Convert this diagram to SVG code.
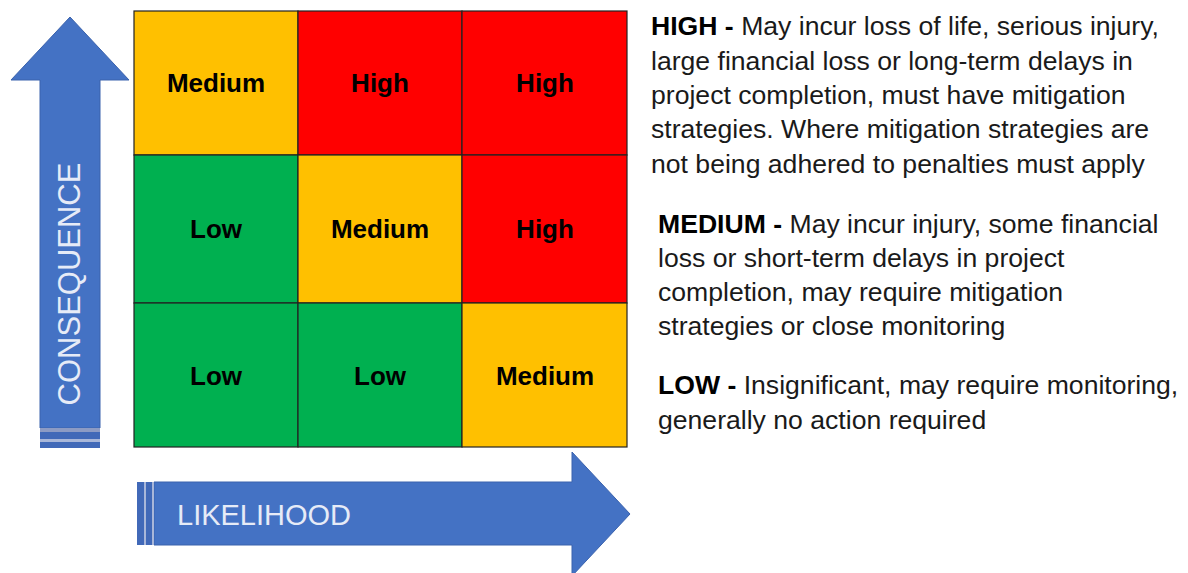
<svg xmlns="http://www.w3.org/2000/svg" width="1188" height="573" viewBox="0 0 1188 573">
<style>
.cell{stroke:#222;stroke-width:1.2}
.y{fill:#ffc000}.r{fill:#ff0000}.g{fill:#00b050}
.lbl{font-family:"Liberation Sans",Arial,sans-serif;font-weight:bold;font-size:26px;fill:#000;text-anchor:middle}
.arrow{fill:#4472c4;stroke:#3a62ad;stroke-width:1}
.band{fill:#4169b8}
.axis{font-family:"Liberation Sans",Arial,sans-serif;font-size:29px;fill:#e6ebf7}
.desc{font-family:"Liberation Sans",Arial,sans-serif;font-size:26.6px;fill:#1a1a1a}
.desc .b{font-weight:bold;fill:#000}
</style>
<rect width="1188" height="573" fill="#fff"/>

<g id="axis-consequence">
  <path class="arrow" d="M40,428 L40,80 L11,80 L70,17 L129,80 L100,80 L100,428 Z"/>
  <rect x="40" y="428" width="60" height="4" fill="#8c9bc4"/>
  <rect class="band" x="40" y="432" width="60" height="7"/>
  <rect x="40" y="439" width="60" height="3" fill="#a9b7d9"/>
  <rect class="band" x="40" y="442" width="60" height="6"/>
  <text class="axis" style="font-size:31px" transform="translate(80,284) rotate(-90)" text-anchor="middle">CONSEQUENCE</text>
</g>

<g id="axis-likelihood">
  <path class="arrow" d="M154,482 L572,482 L572,452 L630,514 L572,576 L572,545 L154,545 Z"/>
  <rect class="band" x="137" y="482" width="7" height="63"/>
  <rect x="144" y="482" width="2" height="63" fill="#a9b7d9"/>
  <rect class="band" x="146" y="482" width="6" height="63"/>
  <rect x="152" y="482" width="2" height="63" fill="#a9b7d9"/>
  <text class="axis" x="177" y="525">LIKELIHOOD</text>
</g>

<g id="matrix">
  <g id="cell-r1c1"><rect class="cell y" x="134" y="11" width="164" height="144"/><text class="lbl" x="216" y="92">Medium</text></g>
  <g id="cell-r1c2"><rect class="cell r" x="298" y="11" width="164" height="144"/><text class="lbl" x="380" y="92">High</text></g>
  <g id="cell-r1c3"><rect class="cell r" x="462" y="11" width="165" height="144"/><text class="lbl" x="545" y="92">High</text></g>
  <g id="cell-r2c1"><rect class="cell g" x="134" y="155" width="164" height="148"/><text class="lbl" x="216" y="238">Low</text></g>
  <g id="cell-r2c2"><rect class="cell y" x="298" y="155" width="164" height="148"/><text class="lbl" x="380" y="238">Medium</text></g>
  <g id="cell-r2c3"><rect class="cell r" x="462" y="155" width="165" height="148"/><text class="lbl" x="545" y="238">High</text></g>
  <g id="cell-r3c1"><rect class="cell g" x="134" y="303" width="164" height="144"/><text class="lbl" x="216" y="385">Low</text></g>
  <g id="cell-r3c2"><rect class="cell g" x="298" y="303" width="164" height="144"/><text class="lbl" x="380" y="385">Low</text></g>
  <g id="cell-r3c3"><rect class="cell y" x="462" y="303" width="165" height="144"/><text class="lbl" x="545" y="385">Medium</text></g>
</g>

<g id="connectors"></g>

<g id="legend-high">
  <text class="desc" x="651" y="35"><tspan class="b">HIGH - </tspan>May incur loss of life, serious injury,</text>
  <text class="desc" x="651" y="69.5">large financial loss or long-term delays in</text>
  <text class="desc" x="651" y="104">project completion, must have mitigation</text>
  <text class="desc" x="651" y="138">strategies. Where mitigation strategies are</text>
  <text class="desc" x="651" y="172.5">not being adhered to penalties must apply</text>
</g>
<g id="legend-medium">
  <text class="desc" x="658" y="233"><tspan class="b">MEDIUM - </tspan>May incur injury, some financial</text>
  <text class="desc" x="658" y="267">loss or short-term delays in project</text>
  <text class="desc" x="658" y="301">completion, may require mitigation</text>
  <text class="desc" x="658" y="335">strategies or close monitoring</text>
</g>
<g id="legend-low">
  <text class="desc" x="658" y="394"><tspan class="b">LOW - </tspan>Insignificant, may require monitoring,</text>
  <text class="desc" x="658" y="429">generally no action required</text>
</g>
</svg>
